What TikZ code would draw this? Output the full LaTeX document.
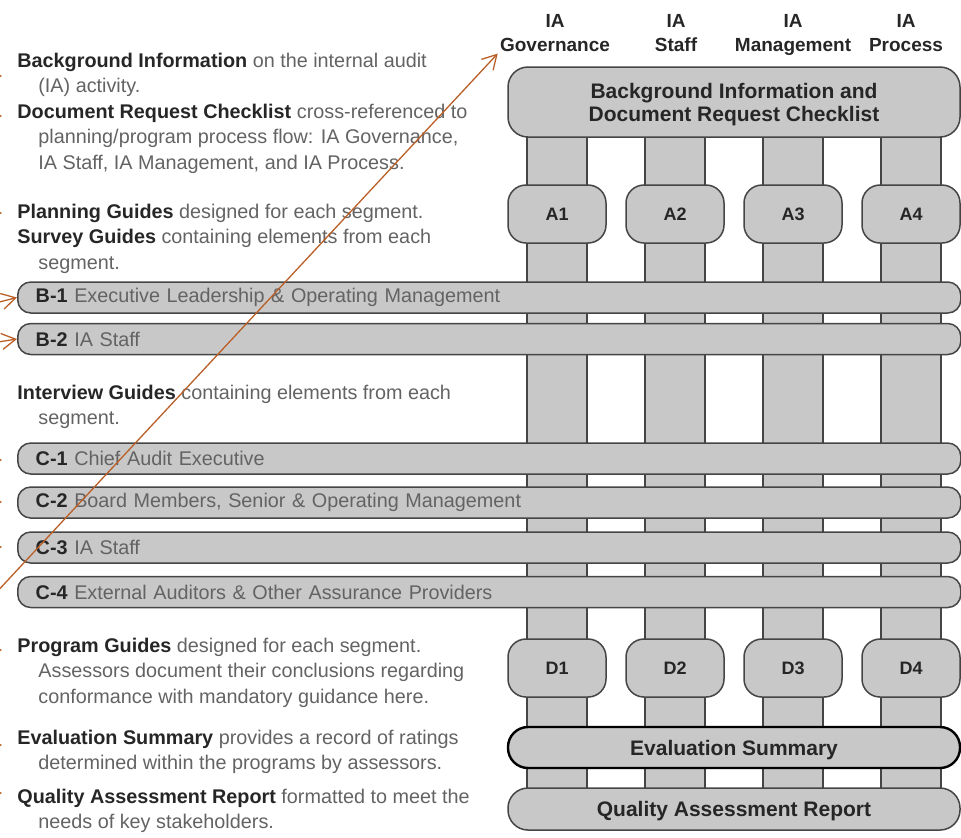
\documentclass[tikz,border=0pt]{standalone}
\usepackage{fontspec}
\setmainfont{Liberation Sans}
\usepackage{tikz}
\usetikzlibrary{positioning,arrows.meta}
\definecolor{panelgray}{HTML}{C8C8C8}
\definecolor{edgegray}{HTML}{454545}
\definecolor{inkdark}{HTML}{262626}
\definecolor{inklight}{HTML}{636363}
\definecolor{pointerorange}{HTML}{BA5F28}
\newcommand{\keyterm}[1]{\textbf{\color{inkdark}#1}}
\newcommand{\indentline}{\hspace*{10.5pt}}

\begin{document}
\begin{tikzpicture}[x=0.5pt,y=-0.5pt,
  bar/.style={fill=panelgray,draw=edgegray,line width=0.75pt},
  band/.style={draw=edgegray,fill=panelgray,line width=0.75pt,rounded corners=6.5pt,anchor=west,
    minimum height=15.5pt,text width=453.5pt,inner xsep=9pt,inner ysep=0pt,align=left,
    text=inklight,font=\fontsize{9.9}{11}\selectfont},
  cell/.style={draw=edgegray,fill=panelgray,line width=0.75pt,rounded corners=9pt,
    minimum width=49pt,minimum height=29pt,text=inkdark,font=\bfseries\fontsize{9}{11}\selectfont},
  hub/.style={draw=edgegray,fill=panelgray,line width=0.75pt,rounded corners=10pt,text depth=0pt,
    minimum width=226pt,align=center,text=inkdark,font=\bfseries\fontsize{10.5}{11.5}\selectfont},
  head/.style={anchor=base,align=center,inner sep=1pt,text=inkdark,font=\bfseries\fontsize{9.5}{12}\selectfont},
  note/.style={anchor=base west,align=left,inner sep=0pt,text=inklight,
    font=\fontsize{9.9}{12.75}\selectfont},
  pointer/.style={-{Straight Barb[length=7pt,width=8pt]},draw=pointerorange,line width=0.65pt}]
  \useasboundingbox (0,0) rectangle (961,837);
  \clip (0,0) rectangle (961,837);

  % the four segment columns run behind all boxes
  \foreach \cx in {557,675,793,911}
    \filldraw[bar] (\cx-30,120) rectangle (\cx+30,800);

  % survey and interview guides
  \node[band] (b1) at (17,297.5) {\keyterm{B-1} Executive Leadership \& Operating Management};
  \node[band] (b2) at (17,339) {\keyterm{B-2} IA Staff};
  \node[band] (c1) at (17,458.5) {\keyterm{C-1} Chief Audit Executive};
  \node[band] (c2) at (17,502.5) {\keyterm{C-2} Board Members, Senior \& Operating Management};
  \node[band] (c3) at (17,547.5) {\keyterm{C-3} IA Staff};
  \node[band] (c4) at (17,592) {\keyterm{C-4} External Auditors \& Other Assurance Providers};

  \node[hub,minimum height=35pt] (bginfo) at (734,102) {Background Information and\\Document Request Checklist};
  \foreach \cx/\n in {557/1,675/2,793/3,911/4} {
    \node[cell] (a\n) at (\cx,214) {A\n};
    \node[cell] (d\n) at (\cx,668) {D\n};
  }
  \node[hub,minimum height=20.5pt,draw=black,line width=1.2pt] (evalsum) at (734,747.5) {Evaluation Summary};
  \node[hub,minimum height=21pt] (qar) at (734,809) {Quality Assessment Report};

  \node[head] (hgov) at (555,51) {IA\\Governance};
  \node[head] (hstaff) at (676,51) {IA\\Staff};
  \node[head] (hmgmt) at (793,51) {IA\\Management};
  \node[head] (hproc) at (906,51) {IA\\Process};

  % left hand notes (placed at the baseline of their last line)
  \node[note] (bgnote) at (17,92.5) {\keyterm{Background Information} on the internal audit\\\indentline(IA) activity.};
  \node[note] (docnote) at (17,169) {\keyterm{Document Request Checklist} cross-referenced to\\\indentline planning/program process flow: IA Governance,\\\indentline IA Staff, IA Management, and IA Process.};
  \node[note] (plannote) at (17,218) {\keyterm{Planning Guides} designed for each segment.};
  \node[note] (surveynote) at (17,269) {\keyterm{Survey Guides} containing elements from each\\\indentline segment.};
  \node[note] (interviewnote) at (17,424.5) {\keyterm{Interview Guides} containing elements from each\\\indentline segment.};
  \node[note] (programnote) at (17,703) {\keyterm{Program Guides} designed for each segment.\\\indentline Assessors document their conclusions regarding\\\indentline conformance with mandatory guidance here.};
  \node[note] (evalnote) at (17,769.5) {\keyterm{Evaluation Summary} provides a record of ratings\\\indentline determined within the programs by assessors.};
  \node[note] (qarnote) at (17,828.5) {\keyterm{Quality Assessment Report} formatted to meet the\\\indentline needs of key stakeholders.};

  % pointers coming in from the left
  \coordinate (govtail) at (-20,610);
  \draw[pointer] (govtail) -- (hgov.south west);
  \coordinate (b1tail) at (-40,312);
  \draw[pointer] (b1tail) -- (b1.west);
  \coordinate (b2tail) at (-40,348);
  \draw[pointer] (b2tail) -- (b2.west);
  \foreach \ty in {76,116,213,460,502,547,650,745,793} {
    \coordinate (stubtail\ty) at (-40,\ty);
    \coordinate (stubtip\ty) at (2,\ty);
    \draw[pointer] (stubtail\ty) -- (stubtip\ty);
  }
\end{tikzpicture}
\end{document}
